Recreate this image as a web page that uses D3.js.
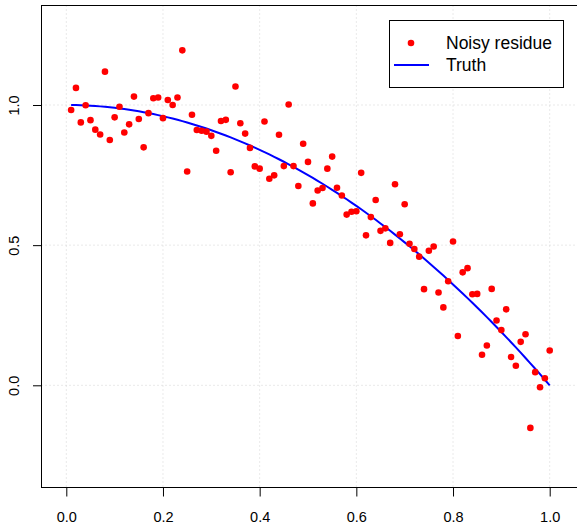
<!DOCTYPE html>
<html>
<head>
<meta charset="utf-8">
<script src="https://cdn.jsdelivr.net/npm/d3@7"></script>
<style>
  html, body { margin: 0; padding: 0; background: #fff; }
  svg { display: block; font-family: "Liberation Sans", Arial, sans-serif; }
</style>
</head>
<body>
<svg id="chart" width="577" height="524"></svg>
<script>
// Sample positions and the noisy residue observed at each one
const xs = d3.range(1, 101).map(i => i / 100);
const noisy = [
  0.982, 1.061, 0.938, 0.999, 0.946, 0.912, 0.895, 1.119, 0.875, 0.956,
  0.994, 0.902, 0.931, 1.030, 0.950, 0.849, 0.971, 1.024, 1.027, 0.953,
  1.018, 1.000, 1.027, 1.195, 0.763, 0.965, 0.911, 0.908, 0.905, 0.890,
  0.837, 0.943, 0.947, 0.760, 1.066, 0.935, 0.898, 0.847, 0.781, 0.773,
  0.941, 0.737, 0.749, 0.894, 0.782, 1.002, 0.782, 0.711, 0.862, 0.797,
  0.649, 0.695, 0.704, 0.773, 0.816, 0.705, 0.677, 0.609, 0.619, 0.621,
  0.758, 0.535, 0.600, 0.661, 0.551, 0.560, 0.508, 0.717, 0.539, 0.646,
  0.505, 0.486, 0.459, 0.343, 0.480, 0.495, 0.331, 0.278, 0.371, 0.513,
  0.176, 0.403, 0.418, 0.325, 0.326, 0.109, 0.142, 0.344, 0.231, 0.197,
  0.271, 0.101, 0.070, 0.155, 0.182, -0.152, 0.047, -0.007, 0.025, 0.124
];
// Underlying truth curve: 1 - x^2
const truth = xs.map(x => 1 - x * x);

const xTicks = [0, 0.2, 0.4, 0.6, 0.8, 1.0];
const yTicks = [0, 0.5, 1.0];
const legendLabels = ["Noisy residue", "Truth"];

const svg = d3.select("#chart");
const x = d3.scaleLinear().domain([0, 1]).range([66.3, 549.7]);
const y = d3.scaleLinear().domain([0, 1]).range([385.3, 105]);

const box = { left: 41.5, top: 5.5, right: 600, bottom: 487.5 };

// Dotted grid
svg.append("g").selectAll("line").data(xTicks).join("line")
  .attr("x1", d => x(d)).attr("x2", d => x(d))
  .attr("y1", box.top).attr("y2", box.bottom)
  .attr("stroke", "#d3d3d3").attr("stroke-width", 1)
  .attr("stroke-dasharray", "1,3");
svg.append("g").selectAll("line").data(yTicks).join("line")
  .attr("x1", box.left).attr("x2", box.right)
  .attr("y1", d => y(d)).attr("y2", d => y(d))
  .attr("stroke", "#d3d3d3").attr("stroke-width", 1)
  .attr("stroke-dasharray", "1,3");

// Axes
const xAxis = d3.axisBottom(x).tickValues(xTicks).tickFormat(d3.format(".1f"))
  .tickSize(9).tickPadding(15);
svg.append("g").attr("transform", `translate(0,${box.bottom})`).call(xAxis)
  .call(g => g.select(".domain").remove())
  .call(g => g.selectAll("text").attr("font-size", 14.5).attr("font-family", "Liberation Sans, Arial, sans-serif").attr("fill", "#000"));

const yAxis = d3.axisLeft(y).tickValues(yTicks).tickFormat(d3.format(".1f"))
  .tickSize(8.5).tickPadding(0);
svg.append("g").attr("transform", `translate(${box.left},0)`).call(yAxis)
  .call(g => g.select(".domain").remove())
  .call(g => g.selectAll("text")
    .attr("font-size", 14.5).attr("font-family", "Liberation Sans, Arial, sans-serif").attr("fill", "#000")
    .attr("x", 0).attr("dy", 0).attr("text-anchor", "middle")
    .attr("transform", d => `translate(${-27.5},0) rotate(-90) translate(0,5)`));

// Plot frame
svg.append("rect")
  .attr("x", box.left).attr("y", box.top)
  .attr("width", box.right - box.left).attr("height", box.bottom - box.top)
  .attr("fill", "none").attr("stroke", "#000").attr("stroke-width", 1);

// Truth curve
const line = d3.line().x((d, i) => x(xs[i])).y(d => y(d));
svg.append("path").datum(truth)
  .attr("d", line).attr("fill", "none")
  .attr("stroke", "#0000ff").attr("stroke-width", 2);

// Noisy points
svg.append("g").selectAll("circle").data(noisy).join("circle")
  .attr("cx", (d, i) => x(xs[i])).attr("cy", d => y(d))
  .attr("r", 3.3).attr("fill", "#ff0000");

// Legend
const lg = svg.append("g");
lg.append("rect").attr("x", 389.5).attr("y", 20.5).attr("width", 174).attr("height", 67)
  .attr("fill", "#fff").attr("stroke", "#000").attr("stroke-width", 1);
lg.append("circle").attr("cx", 411).attr("cy", 43).attr("r", 3.3).attr("fill", "#ff0000");
lg.append("line").attr("x1", 394).attr("x2", 429).attr("y1", 65).attr("y2", 65)
  .attr("stroke", "#0000ff").attr("stroke-width", 2);
lg.selectAll("text").data(legendLabels).join("text")
  .attr("x", 446).attr("y", (d, i) => 43 + i * 22).attr("dy", "0.36em")
  .attr("font-size", 17.5).attr("fill", "#000").text(d => d);
</script>
</body>
</html>
